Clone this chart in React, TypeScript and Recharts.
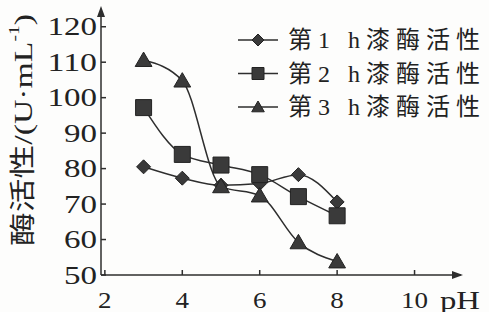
import { LineChart, Line, XAxis, YAxis } from "recharts";

// pH 值与三组漆酶活性(U·mL⁻¹)
const phValues = [3, 4, 5, 6, 7, 8];
const hour1 = [80.5, 77.3, 75.3, 75.8, 78.3, 70.6];
const hour2 = [97.2, 84, 81, 78.3, 72.1, 66.7];
const hour3 = [110.6, 104.8, 75, 72.4, 59.2, 53.8];
const xTicks = [2, 4, 6, 8, 10];
const yTicks = [50, 60, 70, 80, 90, 100, 110, 120];
const seriesNames = ["第1 h漆酶活性", "第2 h漆酶活性", "第3 h漆酶活性"];

const data = phValues.map((ph, i) => ({
  ph,
  h1: hour1[i],
  h2: hour2[i],
  h3: hour3[i],
}));

const INK = "#2e2e2e";
const TXT = "#222";
const FONT = "'Liberation Serif', 'DejaVu Serif', 'Noto Sans CJK SC', serif";

type Shape = "diamond" | "square" | "triangle";

function marker(shape: Shape, cx: number, cy: number, s: number) {
  if (shape === "diamond") {
    return `M${cx},${cy - s} L${cx + s},${cy} L${cx},${cy + s} L${cx - s},${cy} Z`;
  }
  if (shape === "square") {
    return `M${cx - s},${cy - s} H${cx + s} V${cy + s} H${cx - s} Z`;
  }
  return `M${cx},${cy - s} L${cx + s * 1.05},${cy + s * 0.8} L${cx - s * 1.05},${cy + s * 0.8} Z`;
}

const sizes: Record<Shape, number> = { diamond: 7, square: 8, triangle: 8 };

function makeDot(shape: Shape) {
  return (p: any) => (
    <path
      key={`${shape}-${p.index}`}
      d={marker(shape, p.cx, p.cy, sizes[shape])}
      fill="#3a3a3a"
      stroke="#222"
      strokeWidth={1}
    />
  );
}

const series: { key: string; shape: Shape }[] = [
  { key: "h1", shape: "diamond" },
  { key: "h2", shape: "square" },
  { key: "h3", shape: "triangle" },
];

// 图例:扫描件里的字比较宽,用 textLength 撑开
function LegendBox() {
  return (
    <svg width={253} height={120} style={{ position: "absolute", left: 236, top: 20 }}>
      {series.map((s, i) => {
        const cy = 20 + i * 33.5;
        return (
          <g key={s.key}>
            <line x1={2} y1={cy} x2={42} y2={cy} stroke={INK} strokeWidth={1.5} />
            <path d={marker(s.shape, 22, cy, 6)} fill="#3a3a3a" stroke="#222" />
            <text
              x={52}
              y={cy}
              dominantBaseline="central"
              fontFamily={FONT}
              fontSize={24}
              fill={TXT}
              textLength={192}
              lengthAdjust="spacing"
            >
              {seriesNames[i]}
            </text>
          </g>
        );
      })}
    </svg>
  );
}

function XTick(props: any) {
  const { x, y, payload } = props;
  const label = String(payload.value);
  return (
    <text
      x={x}
      y={y}
      textAnchor="middle"
      dominantBaseline="central"
      fontFamily={FONT}
      fontSize={24}
      fill={TXT}
      textLength={label.length * 13.5}
      lengthAdjust="spacingAndGlyphs"
    >
      {label}
    </text>
  );
}

function YTick(props: any) {
  const { x, y, payload } = props;
  const label = String(payload.value);
  return (
    <text
      x={x}
      y={y}
      textAnchor="end"
      dominantBaseline="central"
      fontFamily={FONT}
      fontSize={25}
      fill={TXT}
      textLength={label.length * 16.5}
      lengthAdjust="spacingAndGlyphs"
    >
      {label}
    </text>
  );
}

function YArrow(props: any) {
  const { x, y, width } = props.viewBox;
  const ax = x + width;
  return (
    <g>
      <path d={`M${ax},${y - 3} L${ax + 4},${y + 8} L${ax - 4},${y + 8} Z`} fill={INK} />
      <text
        x={23}
        y={y + 121}
        transform={`rotate(-90 23 ${y + 121})`}
        textAnchor="middle"
        dominantBaseline="central"
        fontFamily={FONT}
        fontSize={26}
        fill={TXT}
        textLength={232}
        lengthAdjust="spacingAndGlyphs"
      >
        酶活性/(U·mL
        <tspan dy={-9} fontSize={15}>-1</tspan>
        <tspan dy={9}>)</tspan>
      </text>
    </g>
  );
}

function XArrow(props: any) {
  const { x, y, width } = props.viewBox;
  const ex = x + width;
  return (
    <g>
      <path d={`M${ex + 2},${y} L${ex - 9},${y - 4} L${ex - 9},${y + 4} Z`} fill={INK} />
      <text
        x={ex - 21}
        y={y + 25}
        dominantBaseline="central"
        fontFamily={FONT}
        fontSize={25}
        fill={TXT}
        textLength={40}
        lengthAdjust="spacingAndGlyphs"
      >
        pH
      </text>
    </g>
  );
}

export default function App() {
  return (
    <div style={{ position: "absolute", left: 0, top: 0, width: 489, height: 312, background: "#fdfdfc" }}>
      <LineChart
        width={489}
        height={312}
        data={data}
        margin={{ top: 9, right: 28, bottom: 0, left: 0 }}
      >
        <XAxis
          type="number"
          dataKey="ph"
          domain={[1.9, 11.2]}
          ticks={xTicks}
          allowDataOverflow
          height={37}
          stroke={INK}
          strokeWidth={1.5}
          tickSize={-5}
          tickMargin={30}
          tick={<XTick />}
          label={<XArrow />}
        />
        <YAxis
          type="number"
          domain={[50, 125]}
          ticks={yTicks}
          allowDataOverflow
          width={101}
          stroke={INK}
          strokeWidth={1.5}
          tickSize={-5}
          tickMargin={9}
          tick={<YTick />}
          label={<YArrow />}
        />
        {series.map((s, i) => (
          <Line
            key={s.key}
            dataKey={s.key}
            name={seriesNames[i]}
            type="monotone"
            stroke={INK}
            strokeWidth={1.5}
            dot={makeDot(s.shape)}
            activeDot={false}
            isAnimationActive={false}
          />
        ))}
      </LineChart>
      <LegendBox />
    </div>
  );
}
